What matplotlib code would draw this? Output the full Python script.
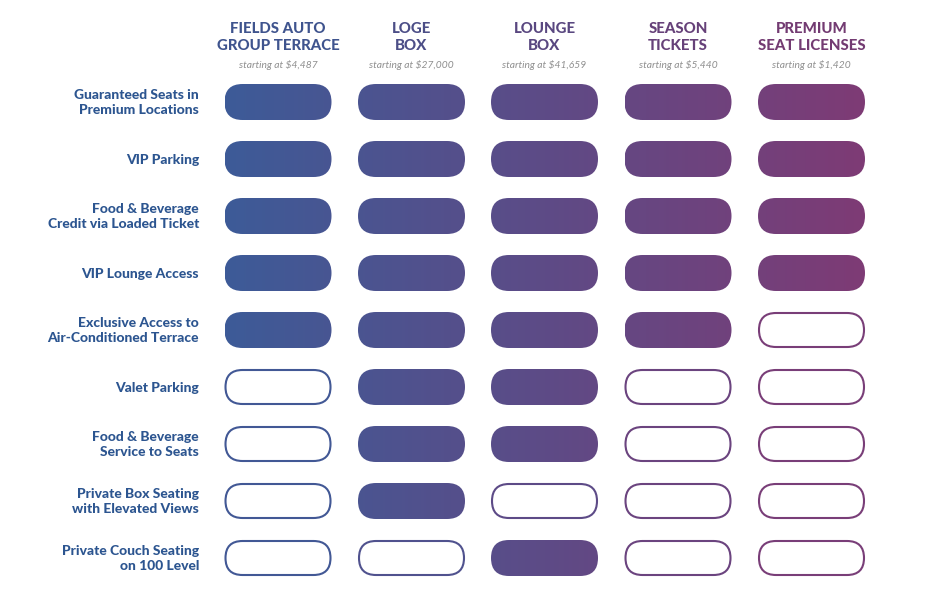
import numpy as np
import matplotlib
matplotlib.use("Agg")
import matplotlib.pyplot as plt
from matplotlib.patches import FancyBboxPatch
from matplotlib.colors import to_rgb

# package columns
packages = ["FIELDS AUTO\nGROUP TERRACE", "LOGE\nBOX", "LOUNGE\nBOX",
            "SEASON\nTICKETS", "PREMIUM\nSEAT LICENSES"]
prices = ["starting at $4,487", "starting at $27,000", "starting at $41,659",
          "starting at $5,440", "starting at $1,420"]

# benefit rows
benefits = ["Guaranteed Seats in\nPremium Locations", "VIP Parking",
            "Food & Beverage\nCredit via Loaded Ticket", "VIP Lounge Access",
            "Exclusive Access to\nAir-Conditioned Terrace", "Valet Parking",
            "Food & Beverage\nService to Seats", "Private Box Seating\nwith Elevated Views",
            "Private Couch Seating\non 100 Level"]

# 1 = included, 0 = not included
included = [
    [1, 1, 1, 1, 1],
    [1, 1, 1, 1, 1],
    [1, 1, 1, 1, 1],
    [1, 1, 1, 1, 1],
    [1, 1, 1, 1, 0],
    [0, 1, 1, 0, 0],
    [0, 1, 1, 0, 0],
    [0, 1, 0, 0, 0],
    [0, 0, 1, 0, 0],
]

W, H = 931, 599
c_left = np.array(to_rgb("#3d5b98"))
c_right = np.array(to_rgb("#7e3b75"))
label_col = "#2c5590"

col_x = np.array([278, 411.5, 544.5, 678, 811.5])
row_y = 102 + 57 * np.arange(len(benefits))
pill_w, pill_h = 107, 36
grad_x0 = col_x[0] - pill_w / 2
grad_x1 = col_x[-1] + pill_w / 2


def grad_color(x):
    t = np.clip((x - grad_x0) / (grad_x1 - grad_x0), 0, 1)
    return c_left + (c_right - c_left) * t


fig = plt.figure(figsize=(W / 100, H / 100), dpi=100)
ax = fig.add_axes([0, 0, 1, 1])
ax.set_xlim(0, W)
ax.set_ylim(H, 0)
ax.axis("off")

font = "Lato"

for j, (name, price) in enumerate(zip(packages, prices)):
    hc = grad_color(col_x[j]) * 0.95
    ax.text(col_x[j], 37.5, name, ha="center", va="center", fontsize=10.8,
            fontweight="black", family=font, color=hc, linespacing=1.35)
    ax.text(col_x[j], 64.5, price, ha="center", va="center", fontsize=7.4,
            style="italic", family=font, color="#8f8f8f")

for i, label in enumerate(benefits):
    ax.text(199, row_y[i] + 0.5, label, ha="right", va="center", fontsize=10,
            fontweight="black", family=font, color=label_col, linespacing=1.3)
    for j in range(len(packages)):
        x0 = col_x[j] - pill_w / 2
        y0 = row_y[i] - pill_h / 2
        if included[i][j]:
            patch = FancyBboxPatch((x0, y0), pill_w, pill_h,
                                   boxstyle="round,pad=0,rounding_size=18",
                                   facecolor="none", edgecolor="none")
            ax.add_patch(patch)
            xs = np.linspace(x0, x0 + pill_w, 64)
            img = np.array([grad_color(x) for x in xs])[None, :, :]
            im = ax.imshow(img, extent=[x0, x0 + pill_w, y0 + pill_h, y0],
                           aspect="auto", interpolation="bilinear", zorder=2)
            im.set_clip_path(patch)
        else:
            patch = FancyBboxPatch((x0 + 1, y0 + 1), pill_w - 2, pill_h - 2,
                                   boxstyle="round,pad=0,rounding_size=17",
                                   facecolor="white",
                                   edgecolor=grad_color(col_x[j]), lw=1.5,
                                   zorder=2)
            ax.add_patch(patch)

ax.set_xlim(0, W)
ax.set_ylim(H, 0)
fig.savefig("out.png", dpi=100, facecolor="white")
